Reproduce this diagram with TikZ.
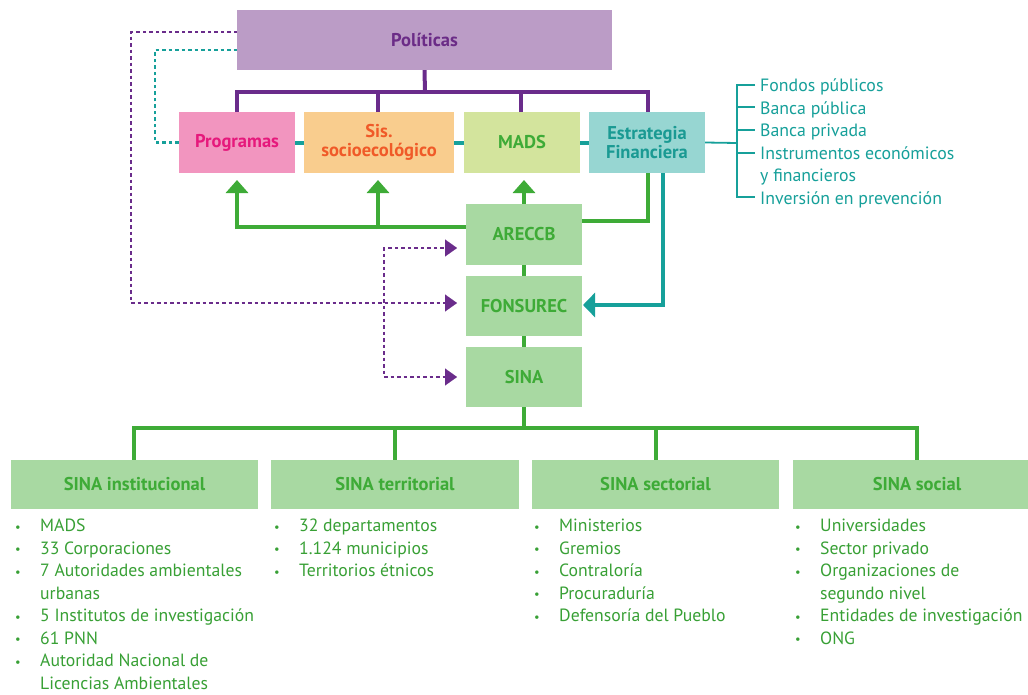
\documentclass[tikz,border=0pt]{standalone}
\usepackage{fontspec}
\setmainfont{PT Sans}
\usetikzlibrary{arrows.meta}
\definecolor{polfill}{HTML}{BB9CC6}
\definecolor{poltext}{HTML}{6B2C87}
\definecolor{purp}{HTML}{6A2C8B}
\definecolor{progfill}{HTML}{F295BF}
\definecolor{progtext}{HTML}{E6197C}
\definecolor{sisfill}{HTML}{F9CD8E}
\definecolor{sistext}{HTML}{F05A28}
\definecolor{madsfill}{HTML}{D3E49D}
\definecolor{grn}{HTML}{3EAB37}
\definecolor{estfill}{HTML}{97D6D2}
\definecolor{estext}{HTML}{1A9A93}
\definecolor{teal2}{HTML}{16A09A}
\definecolor{gbox}{HTML}{A8D9A2}
\definecolor{gtext}{HTML}{38A035}
\newcommand{\bl}{\makebox[25pt][l]{\raisebox{0.5pt}{\scalebox{0.7}{\textbullet}}}}
\tikzset{
  box/.style={inner sep=0pt, align=center, font=\fontsize{18.5}{19}\selectfont\bfseries},
  plink/.style={draw=purp, line width=4pt},
  glink/.style={draw=grn, line width=4pt},
  tlink/.style={draw=teal2, line width=4pt},
  pdot/.style={draw=purp, line width=2.5pt, dash pattern=on 3.5pt off 3pt},
  tdot/.style={draw=teal2, line width=2.5pt, dash pattern=on 3.5pt off 3pt},
  garrow/.style={-{Triangle[width=22pt,length=13pt]}},
  parrow/.style={draw=purp, fill=purp, line width=0.1pt, -{Triangle[width=17pt,length=12pt]}},
  tarrow/.style={-{Triangle[width=24pt,length=12pt]}},
  listtxt/.style={inner sep=0pt, anchor=north west, text=gtext, font=\fontsize{17.7}{22.5}\selectfont},
  esttxt/.style={inner sep=0pt, anchor=north west, text=teal2, font=\fontsize{17.8}{22.5}\selectfont},
}
\begin{document}
\begin{tikzpicture}[x=1pt,y=-1pt]
\clip (0,0) rectangle (1028,694);
\fill[white] (0,0) rectangle (1028,694);
% top boxes
\node[box, fill=polfill, text=poltext, minimum width=375pt, minimum height=60pt] (pol) at (424.5,40) {Políticas};
\node[box, fill=progfill, text=progtext, minimum width=116pt, minimum height=61pt] (prog) at (237,142.5) {Programas};
\node[box, fill=sisfill, text=sistext, minimum width=150pt, minimum height=61pt] (sis) at (379,142.5) {Sis.\\socioecológico};
\node[box, fill=madsfill, text=grn, minimum width=116pt, minimum height=61pt] (mads) at (522,142.5) {MADS};
\node[box, fill=estfill, text=estext, minimum width=116pt, minimum height=61pt] (est) at (647,142.5) {Estrategia\\Financiera};
% middle boxes
\node[box, fill=gbox, text=grn, minimum width=116pt, minimum height=61pt] (arec) at (524,234.5) {ARECCB};
\node[box, fill=gbox, text=grn, minimum width=116pt, minimum height=60pt] (fons) at (524,306) {FONSUREC};
\node[box, fill=gbox, text=grn, minimum width=116pt, minimum height=60pt] (sina) at (524,377) {SINA};
% bottom boxes
\node[box, fill=gbox, text=grn, minimum width=247pt, minimum height=49pt] (inst) at (134.5,484.5) {SINA institucional};
\node[box, fill=gbox, text=grn, minimum width=248pt, minimum height=49pt] (terr) at (395,484.5) {SINA territorial};
\node[box, fill=gbox, text=grn, minimum width=247pt, minimum height=49pt] (sect) at (655.5,484.5) {SINA sectorial};
\node[box, fill=gbox, text=grn, minimum width=248pt, minimum height=49pt] (soc) at (917,484.5) {SINA social};

% purple bus
\coordinate (pb) at (425,92);
\draw[plink] (pol.south) -- (pb);
\draw[plink, line cap=rect] (237,92) -- (648,92);
\draw[plink] (prog.north) -- (237,92);
\draw[plink] (378,112) -- (378,92);
\draw[plink] (521,112) -- (521,92);
\draw[plink] (648,112) -- (648,92);
% teal links between top boxes
\draw[tlink] (prog.east) -- (sis.west);
\draw[tlink] (sis.east) -- (mads.west);
\draw[tlink] (mads.east) -- (est.west);
% teal dotted from Programas to Políticas
\coordinate (pt1) at (237,50);
\draw[tdot] (prog.west) -- (155,142.5) -- (155,50) -- (pt1);
% purple dotted from Políticas to FONSUREC
\coordinate (pp1) at (237,32);
\coordinate (fa) at (457,303);
\coordinate (aa) at (457,248);
\coordinate (sa) at (457,377);
\draw[pdot] (pp1) -- (131,32) -- (131,303) -- (450,303);
\draw[pdot] (450,248) -- (384,248) -- (384,377) -- (450,377);
\draw[parrow] (445,248) -- (aa);
\draw[parrow] (445,377) -- (sa);
\draw[parrow] (445,303) -- (fa);
% green links
\draw[glink, garrow] (arec.north) -- (524,180);
\draw[glink] (arec.west |- 0,227) -- (237,227);
\draw[glink, garrow] (237,229) -- (237,180);
\draw[glink, garrow] (378,229) -- (378,180);
\draw[glink] (arec.east |- 0,221) -- (648,221) -- (648,173);
\draw[glink] (arec.south) -- (fons.north);
\draw[glink] (fons.south) -- (sina.north);
% teal from Estrategia to FONSUREC
\draw[tlink, tarrow] (663,173) -- (663,305) -- (583,305);
% SINA bottom tree
\draw[glink] (sina.south) -- (524,428);
\draw[glink, line cap=rect] (134,428) -- (917,428);
\draw[glink] (134,428) -- (134,460);
\draw[glink] (395,428) -- (terr.north);
\draw[glink] (656,428) -- (656,460);
\draw[glink] (917,428) -- (917,460);

% Estrategia list
\draw[draw=teal2, line width=1.8pt] (est.east) -- (737,143);
\draw[draw=teal2, line width=1.8pt] (755,85) -- (737,85) -- (737,197) -- (755,197);
\draw[draw=teal2, line width=1.8pt] (737,107) -- (755,107);
\draw[draw=teal2, line width=1.8pt] (737,130) -- (755,130);
\draw[draw=teal2, line width=1.8pt] (737,153) -- (755,153);
\node[esttxt] (elist) at (760,76) {\begin{tabular}{@{}l@{}}Fondos públicos\\Banca pública\\Banca privada\\Instrumentos económicos\\y financieros\\Inversión en prevención\end{tabular}};

% bullet lists
\node[listtxt] (l1) at (15,516) {\begin{tabular}{@{}l@{}l@{}}\bl&MADS\\\bl&33 Corporaciones\\\bl&7 Autoridades ambientales\\&urbanas\\\bl&5 Institutos de investigación\\\bl&61 PNN\\\bl&Autoridad Nacional de\\&Licencias Ambientales\end{tabular}};
\node[listtxt] (l2) at (274,516) {\begin{tabular}{@{}l@{}l@{}}\bl&32 departamentos\\\bl&1.124 municipios\\\bl&Territorios étnicos\end{tabular}};
\node[listtxt] (l3) at (534,516) {\begin{tabular}{@{}l@{}l@{}}\bl&Ministerios\\\bl&Gremios\\\bl&Contraloría\\\bl&Procuraduría\\\bl&Defensoría del Pueblo\end{tabular}};
\node[listtxt] (l4) at (795,516) {\begin{tabular}{@{}l@{}l@{}}\bl&Universidades\\\bl&Sector privado\\\bl&Organizaciones de\\&segundo nivel\\\bl&Entidades de investigación\\\bl&ONG\end{tabular}};
\end{tikzpicture}
\end{document}
